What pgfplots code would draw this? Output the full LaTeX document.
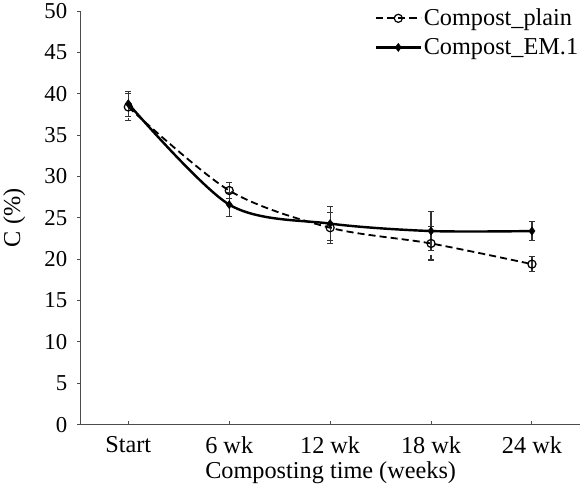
\documentclass[border=0pt]{standalone}
\usepackage{pgfplots}
\pgfplotsset{compat=1.18}
\usepackage{fontspec}
\setmainfont{Liberation Serif}

\begin{document}
\begin{tikzpicture}
\begin{axis}[
    scale only axis,
    width=494pt, height=409pt,
    font=\fontsize{24}{28}\selectfont,
    /pgf/number format/assume math mode=true,
    xmin=-0.47, xmax=4.48,
    ymin=0, ymax=50,
    ytick={0,5,...,50},
    xtick={0,1,2,3,4},
    xticklabels={Start,6 wk,12 wk,18 wk,24 wk},
    axis x line=bottom, axis y line=left,
    axis line style={-, draw=black!70, line width=1.2pt},
    x tick style={draw=black!70, line width=1pt},
    y tick style={draw=black!70, line width=1pt},
    xtick align=inside, ytick align=outside,
    major tick length=4pt,
    yticklabel style={xshift=-6pt, font=\fontsize{22.5}{26}\selectfont},
    xticklabel style={yshift=-8pt},
    xlabel={Composting time (weeks)},
    ylabel={C (\%)},
    xlabel style={yshift=-1pt},
    ylabel style={yshift=12pt},
    legend style={draw=none, fill=none, at={(1.0,1.01)}, anchor=north east,
        row sep=7pt, font=\fontsize{24}{28}\selectfont, inner sep=0pt},
    legend cell align=left,
    legend image code/.code={\draw[mark repeat=2,mark phase=2,#1] plot coordinates {(0pt,0pt) (22pt,0pt) (44pt,0pt)};},
    error bars/error bar style={line width=1.2pt, black!80},
    error bars/error mark options={rotate=90, mark size=3pt, line width=1pt, black!80},
]
% Compost_plain
\addplot[black, dashed, dash pattern=on 7pt off 4pt, line width=1.8pt, smooth,
    mark=o, mark size=4pt, mark options={solid, line width=1.2pt},
    error bars/.cd, y dir=both, y explicit]
coordinates {
    (0,38.4) +- (0,1.6)
    (1,28.3) +- (0,1.0)
    (2,23.8) +- (0,1.9)
    (3,21.9) +- (0,2.0)
    (4,19.4) +- (0,0.9)
};
\addlegendentry{Compost\_plain}
% Compost_EM.1
\addplot[black, solid, line width=2.4pt, smooth,
    mark=diamond*, mark size=4pt, mark options={solid, line width=0.5pt},
    error bars/.cd, y dir=both, y explicit]
coordinates {
    (0,38.8) +- (0,1.5)
    (1,26.6) +- (0,1.4)
    (2,24.3) +- (0,2.1)
    (3,23.4) +- (0,2.4)
    (4,23.4) +- (0,1.2)
};
\addlegendentry{Compost\_EM.1}
\end{axis}
\end{tikzpicture}
\end{document}
